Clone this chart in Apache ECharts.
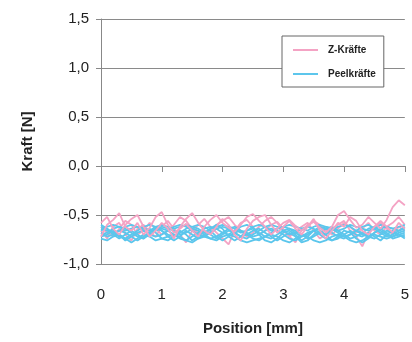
<!DOCTYPE html>
<html>
<head>
<meta charset="utf-8">
<script src="https://cdn.jsdelivr.net/npm/echarts@6/dist/echarts.min.js"></script>
<style>
  html, body { margin: 0; padding: 0; background: #fff; overflow: hidden; }
  #chart { width: 412px; height: 342px; }
</style>
</head>
<body>
<div id="chart"></div>
<script>
// Position [mm], Schritt 0,1
const positions = [0,0.1,0.2,0.3,0.4,0.5,0.6,0.7,0.8,0.9,1,1.1,1.2,1.3,1.4,1.5,1.6,1.7,1.8,1.9,2,2.1,2.2,2.3,2.4,2.5,2.6,2.7,2.8,2.9,3,3.1,3.2,3.3,3.4,3.5,3.6,3.7,3.8,3.9,4,4.1,4.2,4.3,4.4,4.5,4.6,4.7,4.8,4.9,5];
const yTicks = [-1.0, -0.5, 0.0, 0.5, 1.0, 1.5];

// Z-Kräfte (rosa)
const z1 = [-0.72,-0.60,-0.55,-0.48,-0.62,-0.66,-0.58,-0.70,-0.63,-0.52,-0.47,-0.60,-0.68,-0.64,-0.59,-0.66,-0.72,-0.62,-0.55,-0.50,-0.58,-0.63,-0.67,-0.60,-0.52,-0.49,-0.56,-0.62,-0.70,-0.64,-0.58,-0.55,-0.61,-0.66,-0.60,-0.57,-0.63,-0.68,-0.62,-0.50,-0.46,-0.55,-0.63,-0.60,-0.52,-0.58,-0.64,-0.55,-0.42,-0.35,-0.40];
const z2 = [-0.66,-0.74,-0.62,-0.58,-0.70,-0.76,-0.64,-0.60,-0.68,-0.72,-0.62,-0.56,-0.64,-0.70,-0.78,-0.66,-0.60,-0.54,-0.62,-0.68,-0.74,-0.80,-0.66,-0.58,-0.55,-0.62,-0.70,-0.66,-0.60,-0.57,-0.64,-0.72,-0.68,-0.62,-0.58,-0.66,-0.74,-0.70,-0.64,-0.60,-0.56,-0.66,-0.72,-0.82,-0.68,-0.62,-0.58,-0.64,-0.70,-0.62,-0.66];
const z3 = [-0.62,-0.68,-0.72,-0.64,-0.56,-0.60,-0.70,-0.66,-0.58,-0.64,-0.70,-0.66,-0.60,-0.52,-0.56,-0.64,-0.68,-0.72,-0.66,-0.60,-0.56,-0.52,-0.60,-0.66,-0.72,-0.68,-0.62,-0.56,-0.52,-0.58,-0.66,-0.72,-0.78,-0.66,-0.62,-0.56,-0.60,-0.66,-0.70,-0.64,-0.58,-0.62,-0.68,-0.64,-0.58,-0.66,-0.70,-0.62,-0.58,-0.52,-0.60];
const z4 = [-0.58,-0.52,-0.64,-0.70,-0.60,-0.54,-0.50,-0.62,-0.72,-0.66,-0.58,-0.64,-0.74,-0.62,-0.54,-0.48,-0.58,-0.66,-0.70,-0.62,-0.54,-0.60,-0.70,-0.76,-0.64,-0.56,-0.52,-0.50,-0.60,-0.68,-0.62,-0.56,-0.64,-0.70,-0.62,-0.54,-0.66,-0.74,-0.66,-0.58,-0.62,-0.52,-0.56,-0.66,-0.70,-0.62,-0.56,-0.62,-0.68,-0.58,-0.64];

// Peelkräfte (blau)
const p1 = [-0.64,-0.66,-0.68,-0.66,-0.62,-0.60,-0.62,-0.66,-0.70,-0.72,-0.70,-0.66,-0.62,-0.60,-0.62,-0.66,-0.70,-0.72,-0.68,-0.64,-0.62,-0.64,-0.68,-0.72,-0.74,-0.70,-0.66,-0.62,-0.60,-0.62,-0.66,-0.70,-0.68,-0.64,-0.62,-0.64,-0.68,-0.70,-0.66,-0.62,-0.60,-0.62,-0.66,-0.70,-0.72,-0.68,-0.64,-0.62,-0.64,-0.66,-0.64];
const p2 = [-0.70,-0.68,-0.64,-0.62,-0.64,-0.68,-0.72,-0.74,-0.70,-0.66,-0.64,-0.66,-0.70,-0.74,-0.76,-0.72,-0.68,-0.64,-0.62,-0.64,-0.68,-0.70,-0.66,-0.62,-0.60,-0.63,-0.68,-0.72,-0.74,-0.70,-0.66,-0.64,-0.66,-0.70,-0.74,-0.72,-0.68,-0.64,-0.62,-0.66,-0.70,-0.74,-0.72,-0.68,-0.64,-0.62,-0.66,-0.70,-0.72,-0.68,-0.66];
const p3 = [-0.62,-0.64,-0.68,-0.72,-0.74,-0.70,-0.66,-0.62,-0.60,-0.62,-0.66,-0.70,-0.72,-0.68,-0.64,-0.62,-0.60,-0.62,-0.66,-0.72,-0.76,-0.72,-0.68,-0.66,-0.68,-0.72,-0.70,-0.66,-0.64,-0.66,-0.70,-0.74,-0.76,-0.72,-0.68,-0.66,-0.64,-0.62,-0.64,-0.68,-0.72,-0.70,-0.66,-0.62,-0.60,-0.64,-0.68,-0.72,-0.70,-0.66,-0.62];
const p4 = [-0.68,-0.72,-0.70,-0.66,-0.68,-0.72,-0.76,-0.72,-0.68,-0.64,-0.62,-0.64,-0.66,-0.70,-0.68,-0.64,-0.66,-0.70,-0.74,-0.72,-0.68,-0.64,-0.62,-0.66,-0.70,-0.74,-0.76,-0.72,-0.68,-0.64,-0.62,-0.64,-0.68,-0.72,-0.70,-0.66,-0.62,-0.64,-0.68,-0.72,-0.74,-0.70,-0.66,-0.68,-0.72,-0.74,-0.70,-0.66,-0.68,-0.70,-0.68];
const p5 = [-0.66,-0.62,-0.60,-0.62,-0.66,-0.64,-0.62,-0.64,-0.66,-0.62,-0.60,-0.62,-0.64,-0.62,-0.60,-0.62,-0.64,-0.68,-0.64,-0.62,-0.60,-0.62,-0.64,-0.68,-0.66,-0.62,-0.60,-0.62,-0.66,-0.64,-0.62,-0.60,-0.62,-0.64,-0.66,-0.62,-0.60,-0.62,-0.64,-0.66,-0.64,-0.60,-0.62,-0.64,-0.66,-0.64,-0.60,-0.62,-0.64,-0.62,-0.60];
const p6 = [-0.74,-0.76,-0.72,-0.70,-0.74,-0.78,-0.74,-0.70,-0.72,-0.76,-0.74,-0.72,-0.70,-0.72,-0.76,-0.78,-0.74,-0.72,-0.74,-0.76,-0.72,-0.70,-0.72,-0.76,-0.78,-0.76,-0.74,-0.72,-0.70,-0.72,-0.76,-0.78,-0.74,-0.70,-0.72,-0.76,-0.78,-0.76,-0.72,-0.70,-0.72,-0.76,-0.78,-0.76,-0.72,-0.70,-0.72,-0.74,-0.72,-0.70,-0.72];
const p7 = [-0.60,-0.64,-0.70,-0.74,-0.70,-0.66,-0.70,-0.74,-0.68,-0.62,-0.66,-0.72,-0.76,-0.72,-0.66,-0.70,-0.74,-0.70,-0.64,-0.60,-0.64,-0.72,-0.76,-0.72,-0.66,-0.64,-0.70,-0.76,-0.78,-0.74,-0.68,-0.66,-0.70,-0.76,-0.72,-0.66,-0.70,-0.74,-0.76,-0.72,-0.66,-0.68,-0.74,-0.78,-0.74,-0.68,-0.64,-0.68,-0.74,-0.72,-0.70];
const p8 = [-0.72,-0.70,-0.66,-0.70,-0.76,-0.72,-0.68,-0.66,-0.64,-0.68,-0.74,-0.76,-0.72,-0.66,-0.70,-0.76,-0.72,-0.66,-0.70,-0.74,-0.70,-0.66,-0.68,-0.72,-0.70,-0.66,-0.64,-0.68,-0.72,-0.76,-0.72,-0.68,-0.72,-0.78,-0.76,-0.70,-0.66,-0.70,-0.76,-0.74,-0.70,-0.66,-0.70,-0.72,-0.68,-0.72,-0.76,-0.70,-0.66,-0.70,-0.74];

const PINK = '#f4a3c4';
const BLUE = '#5cc6ec';
const LEG_ICON = 'path://M0,0L25,0L25,2L0,2Z';

function mkLine(name, arr, color) {
    return {
        name: name, type: 'line', symbol: 'none', silent: true,
        data: positions.map((x, i) => [x, arr[i]]),
        lineStyle: { color: color, width: 1.8 },
        itemStyle: { color: color }
    };
}

const series = [
    mkLine('Z-Kräfte', z2, PINK),
    mkLine('Z-Kräfte', z3, PINK),
    mkLine('Peelkräfte', p1, BLUE),
    mkLine('Peelkräfte', p2, BLUE),
    mkLine('Peelkräfte', p3, BLUE),
    mkLine('Peelkräfte', p4, BLUE),
    mkLine('Peelkräfte', p5, BLUE),
    mkLine('Peelkräfte', p6, BLUE),
    mkLine('Peelkräfte', p7, BLUE),
    mkLine('Peelkräfte', p8, BLUE),
    mkLine('Z-Kräfte', z4, PINK),
    mkLine('Z-Kräfte', z1, PINK)
];

const fmt = v => v.toFixed(1).replace('.', ',');

const chart = echarts.init(document.getElementById('chart'), null, { renderer: 'canvas', width: 412, height: 342 });
chart.setOption({
    backgroundColor: '#fff',
    animation: false,
    textStyle: { fontFamily: 'Liberation Sans, Arial, sans-serif' },
    grid: { left: 101, top: 19, width: 309, height: 245, containLabel: false },
    legend: {
        data: [{ name: 'Z-Kräfte', icon: LEG_ICON }, { name: 'Peelkräfte', icon: LEG_ICON }],
        orient: 'vertical', left: 282, top: 36,
        padding: [9, 8, 8, 11],
        itemGap: 14, itemWidth: 25, itemHeight: 14,
        borderColor: '#666', borderWidth: 1, backgroundColor: '#fff',
        textStyle: { fontSize: 10, fontWeight: 'bold', color: '#222', padding: [0, 0, 0, 5] }
    },
    xAxis: {
        type: 'value', min: 0, max: 5, interval: 1,
        name: 'Position [mm]', nameLocation: 'middle', nameGap: 57,
        nameTextStyle: { fontSize: 15, fontWeight: 'bold', color: '#222' },
        axisLine: { show: true, lineStyle: { color: '#888', width: 1 } },
        axisTick: { show: true, length: 6, lineStyle: { color: '#888' } },
        axisLabel: { fontSize: 15, color: '#222', margin: 23 },
        splitLine: { show: false }
    },
    yAxis: {
        type: 'value', min: yTicks[0], max: yTicks[yTicks.length - 1], interval: 0.5,
        name: 'Kraft [N]', nameLocation: 'middle', nameGap: 66, nameRotate: 90,
        nameTextStyle: { fontSize: 15, fontWeight: 'bold', color: '#222' },
        axisLine: { show: true, lineStyle: { color: '#888', width: 1 } },
        axisTick: { show: true, length: 5, lineStyle: { color: '#888' } },
        axisLabel: { fontSize: 15, color: '#222', margin: 12, formatter: fmt },
        splitLine: { show: true, lineStyle: { color: '#8a8a8a', width: 1 } }
    },
    series: series
});
</script>
</body>
</html>
